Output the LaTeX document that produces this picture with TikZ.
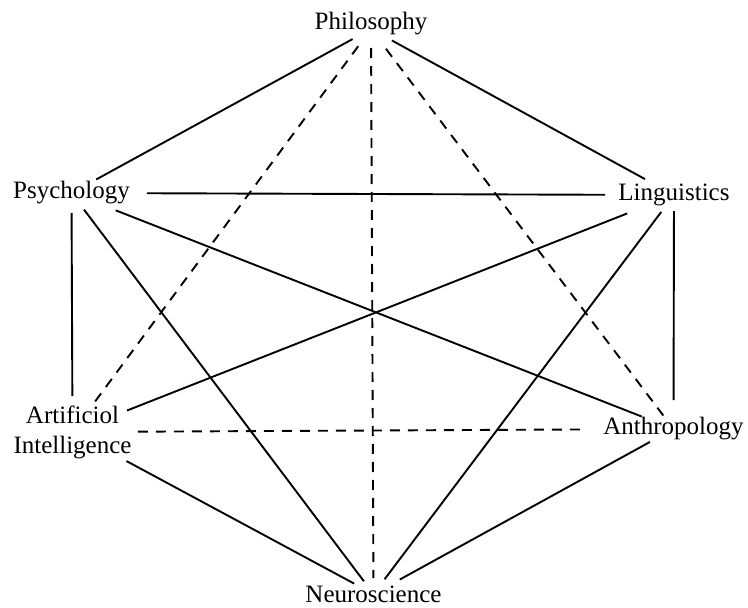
\documentclass[tikz,border=0pt]{standalone}
\usepackage{fontspec}
\setmainfont{Liberation Serif}
\begin{document}
\begin{tikzpicture}[x=1pt,y=-1pt,
  lbl/.style={inner sep=0pt, font=\fontsize{25}{30}\selectfont, align=center},
  link/.style={line width=1.9pt},
  dlink/.style={line width=1.9pt, dash pattern=on 10pt off 8pt}]
\useasboundingbox (0,0) rectangle (748,608);
\node[lbl, anchor=base] (phil) at (371,29) {Philosophy};
\node[lbl] (psy) at (71.5,193) {Psychology};
\node[lbl] (ling) at (674,195) {Linguistics};
\node[lbl] (ai) at (72.5,432) {Artificiol\\Intelligence};
\node[lbl] (anth) at (673.5,429) {Anthropology};
\node[lbl] (neuro) at (373.5,594) {Neuroscience};
% solid links
\draw[link, shorten <=21pt, shorten >=28.2pt] (phil.base) -- (psy.center);
\draw[link, shorten <=23.8pt, shorten >=33.1pt] (phil.base) -- (ling.center);
\draw[link, shorten <=75.5pt, shorten >=69pt] (psy.center) -- (ling.center);
\draw[link, shorten <=20pt, shorten >=36pt] (psy.center) -- (ai.center);
\draw[link, shorten <=20.8pt, shorten >=16pt] (psy.center) -- (neuro.center);
\draw[link, shorten <=47.5pt, shorten >=34.4pt] (psy.center) -- (anth.center);
\draw[link, shorten <=50.3pt, shorten >=58.6pt] (ling.center) -- (ai.center);
\draw[link, shorten <=21.3pt, shorten >=18.5pt] (ling.center) -- (neuro.center);
\draw[link, shorten <=16pt, shorten >=29pt] (ling.center) -- (anth.center);
\draw[link, shorten <=61.3pt, shorten >=22pt] (ai.center) -- (neuro.center);
\draw[link, shorten <=26.9pt, shorten >=30pt] (anth.center) -- (neuro.center);
% dashed links
\draw[dlink, shorten <=21.5pt, shorten >=35.5pt] (phil.base) -- (ai.center);
\draw[dlink, shorten <=19pt, shorten >=16pt] (phil.base) -- (neuro.center);
\draw[dlink, shorten <=24.8pt, shorten >=16.9pt] (phil.base) -- (anth.center);
\draw[dlink, shorten <=65.5pt, shorten >=90.5pt] (ai.center) -- (anth.center);
\end{tikzpicture}
\end{document}
